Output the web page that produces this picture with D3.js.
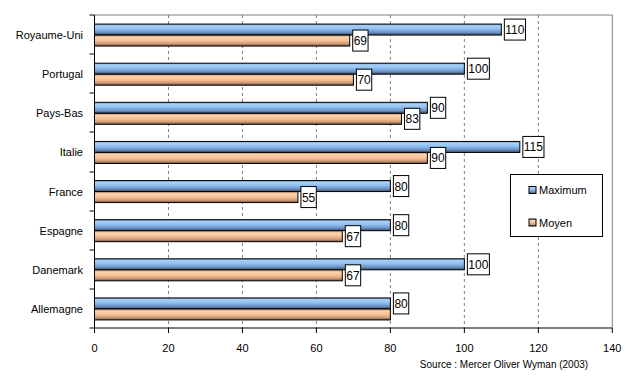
<!DOCTYPE html>
<html><head><meta charset="utf-8">
<script src="https://cdn.jsdelivr.net/npm/d3@7"></script>
<style>body{margin:0;background:#fff}svg{display:block;font-family:"Liberation Sans",Arial,sans-serif}</style>
</head><body>
<svg id="c" width="638" height="382"></svg>
<script>
const categories = ["Royaume-Uni","Portugal","Pays-Bas","Italie","France","Espagne","Danemark","Allemagne"];
const maximum = [110,100,90,115,80,80,100,80];
const moyen = [69,70,83,90,55,67,67,80];
const xTicks = [0,20,40,60,80,100,120,140];
const seriesNames = ["Maximum","Moyen"];
const sourceText = "Source : Mercer Oliver Wyman (2003)";

const svg = d3.select("#c");
const L = 94.5, R = 612.3, T = 15, B = 328;
const x = d3.scaleLinear().domain([0,140]).range([L,R]);
const y = d3.scaleBand().domain(categories).range([T,B]);
const barH = 11;

const defs = svg.append("defs");
function grad(id, stops){
  const g = defs.append("linearGradient").attr("id",id).attr("x1",0).attr("y1",0).attr("x2",0).attr("y2",1);
  stops.forEach(s=>g.append("stop").attr("offset",s[0]).attr("stop-color",s[1]));
}
grad("gBlue",[[0,"#5f86b4"],[0.15,"#a9d2fa"],[0.45,"#8fbff0"],[0.75,"#6c93c4"],[1,"#3c4c64"]]);
grad("gOrange",[[0,"#b08868"],[0.2,"#ffd4ac"],[0.55,"#f3bc92"],[0.8,"#c99672"],[1,"#6e5240"]]);

// gridlines
svg.append("g").selectAll("line").data(xTicks.filter(v=>v>0 && v<140)).join("line")
  .attr("x1",d=>x(d)).attr("x2",d=>x(d)).attr("y1",T).attr("y2",B)
  .attr("stroke","#808080").attr("stroke-dasharray","3,3").attr("stroke-width",1);
// plot border top/right
svg.append("path").attr("d",`M${L},${T}H${R}V${B}`).attr("fill","none").attr("stroke","#808080").attr("stroke-width",1);

const rows = categories.map((c,i)=>({c, max:maximum[i], moy:moyen[i]}));
const gBars = svg.append("g");
rows.forEach(r=>{
  const cy = y(r.c) + y.bandwidth()/2 + 0.5;
  gBars.append("rect").attr("x",x(0)).attr("y",cy-barH).attr("width",x(r.max)-x(0)).attr("height",barH)
    .attr("fill","url(#gBlue)").attr("stroke","#000").attr("stroke-width",1);
  gBars.append("rect").attr("x",x(0)).attr("y",cy).attr("width",x(r.moy)-x(0)).attr("height",barH)
    .attr("fill","url(#gOrange)").attr("stroke","#000").attr("stroke-width",1);
});

function label(v, yc){
  const g = svg.append("g");
  const t = g.append("text").attr("x",0).attr("y",0).attr("font-size",12).text(v);
  const w = t.node().getComputedTextLength() + 2;
  const bx = x(v) + 3;
  g.insert("rect","text").attr("x",bx).attr("y",yc-10.5).attr("width",w).attr("height",21)
    .attr("fill","#fff").attr("stroke","#000").attr("stroke-width",1);
  t.attr("x",bx+1).attr("y",yc+4.5);
}
rows.forEach(r=>{
  const cy = y(r.c) + y.bandwidth()/2 + 0.5;
  label(r.max, cy-barH/2);
});
rows.forEach(r=>{
  const cy = y(r.c) + y.bandwidth()/2 + 0.5;
  if (r.moy !== r.max) label(r.moy, cy+barH/2);
});

// axes
svg.append("line").attr("x1",L).attr("x2",L).attr("y1",T).attr("y2",B).attr("stroke","#000");
svg.append("line").attr("x1",L).attr("x2",R).attr("y1",B).attr("y2",B).attr("stroke","#000");
const bounds = categories.map(c=>y(c)).concat([B]);
svg.append("g").selectAll("line").data(bounds).join("line")
  .attr("x1",L-5).attr("x2",L).attr("y1",d=>Math.round(d)).attr("y2",d=>Math.round(d)).attr("stroke","#000");
svg.append("g").selectAll("text").data(categories).join("text")
  .attr("x",83).attr("y",c=>y(c)+y.bandwidth()/2+4.5).attr("text-anchor","end").attr("font-size",11).text(c=>c);
svg.append("g").selectAll("line").data(xTicks).join("line")
  .attr("x1",d=>x(d)).attr("x2",d=>x(d)).attr("y1",B).attr("y2",B+5).attr("stroke","#000");
svg.append("g").selectAll("text").data(xTicks).join("text")
  .attr("x",d=>x(d)).attr("y",352).attr("text-anchor","middle").attr("font-size",11).text(d=>d);

// legend
const lg = svg.append("g");
lg.append("rect").attr("x",510.5).attr("y",174.5).attr("width",92).attr("height",62).attr("fill","#fff").attr("stroke","#000");
seriesNames.forEach((n,i)=>{
  const yy = 190 + i*32.5;
  lg.append("rect").attr("x",529).attr("y",yy-3.5).attr("width",7).attr("height",7)
    .attr("fill",i===0?"url(#gBlue)":"url(#gOrange)").attr("stroke","#000");
  lg.append("text").attr("x",539).attr("y",yy+4).attr("font-size",11).text(n);
});

svg.append("text").attr("x",504).attr("y",368).attr("text-anchor","middle").attr("font-size",10).text(sourceText);
</script>
</body></html>
